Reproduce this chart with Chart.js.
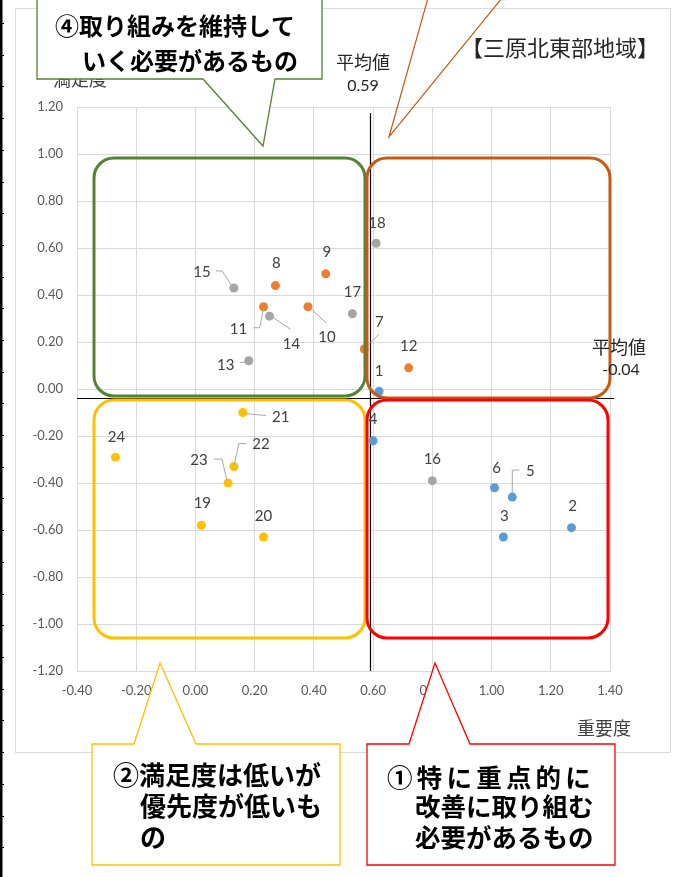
<!DOCTYPE html>
<html lang="ja">
<head>
<meta charset="utf-8">
<title>三原北東部地域</title>
<script src="https://cdn.jsdelivr.net/npm/chart.js@4.4.0/dist/chart.umd.min.js"></script>
<style>
  html, body { margin: 0; padding: 0; background: #fff; }
  #wrap { position: relative; width: 683px; height: 877px; }
</style>
</head>
<body>
<div id="wrap"><canvas id="matrix" width="683" height="877"></canvas></div>
<script>
// ===== data =====
const itemNo = [1, 2, 3, 4, 5, 6, 7, 8, 9, 10, 11, 12, 13, 14, 15, 16, 17, 18, 19, 20, 21, 22, 23, 24];
// 重要度 (x)
const importance = [0.62, 1.27, 1.04, 0.60, 1.07, 1.01, 0.57, 0.27, 0.44, 0.38, 0.23, 0.72,
  0.18, 0.25, 0.13, 0.80, 0.53, 0.61, 0.02, 0.23, 0.16, 0.13, 0.11, -0.27];
// 満足度 (y)
const satisfaction = [-0.01, -0.59, -0.63, -0.22, -0.46, -0.42, 0.17, 0.44, 0.49, 0.35, 0.35, 0.09,
  0.12, 0.31, 0.43, -0.39, 0.32, 0.62, -0.58, -0.63, -0.10, -0.33, -0.40, -0.29];
// items of each series
const seriesItems = [
  [1, 2, 3, 4, 5, 6],
  [7, 8, 9, 10, 11, 12],
  [13, 14, 15, 16, 17, 18],
  [19, 20, 21, 22, 23, 24],
];
const seriesColors = ["#5B9BD5", "#ED7D31", "#A5A5A5", "#FFC000"];
const avgImportance = 0.59;
const avgSatisfaction = -0.04;
const xTicks = { min: -0.4, max: 1.4, step: 0.2 };
const yTicks = { min: -1.2, max: 1.2, step: 0.2 };

// ===== label placement (pixel offsets from the point) =====
const labelLayout = {
  1: { dx: 0, dy: -20 },
  2: { dx: 1, dy: -21 },
  3: { dx: 1, dy: -21 },
  4: { dx: 0, dy: -22 },
  5: { dx: 18, dy: -26, leader: [[0, -3], [0, -27], [7, -27]] },
  6: { dx: 2, dy: -20 },
  7: { dx: 15, dy: -27, leader: [[2, -2], [15, -15]] },
  8: { dx: 1, dy: -22 },
  9: { dx: 1, dy: -22 },
  10: { dx: 19, dy: 30, leader: [[1, 0], [18, 16]] },
  11: { dx: -25, dy: 22, leader: [[0, 2], [-4, 21], [-10, 21]] },
  12: { dx: 0, dy: -22 },
  13: { dx: -23, dy: 4, leader: [[-2, 1], [-9, 2]] },
  14: { dx: 22, dy: 28, leader: [[3, 1], [21, 13]] },
  15: { dx: -32, dy: -16, leader: [[-2, -2], [-12, -17], [-18, -17]] },
  16: { dx: 0, dy: -21 },
  17: { dx: 0, dy: -22 },
  18: { dx: 1, dy: -20 },
  19: { dx: 1, dy: -22 },
  20: { dx: 0, dy: -21 },
  21: { dx: 38, dy: 5, leader: [[1, 1], [23, 3]] },
  22: { dx: 27, dy: -22, leader: [[0, -1], [5, -23], [12, -23]] },
  23: { dx: -29, dy: -23, leader: [[-1, -2], [-6, -24], [-14, -24]] },
  24: { dx: 1, dy: -20 },
};

const JP = '"Noto Sans CJK JP", "Noto Sans", sans-serif';
const NUM = 'Lato, "Liberation Sans", sans-serif';

function fmt(v) {
  return (Math.round(v * 100) / 100 + 0).toFixed(2);
}

function roundRect(ctx, x, y, w, h, r) {
  ctx.beginPath();
  ctx.moveTo(x + r, y);
  ctx.lineTo(x + w - r, y);
  ctx.arcTo(x + w, y, x + w, y + r, r);
  ctx.lineTo(x + w, y + h - r);
  ctx.arcTo(x + w, y + h, x + w - r, y + h, r);
  ctx.lineTo(x + r, y + h);
  ctx.arcTo(x, y + h, x, y + h - r, r);
  ctx.lineTo(x, y + r);
  ctx.arcTo(x, y, x + r, y, r);
  ctx.closePath();
}

// callout: rectangle with a pointer; pts is the closed outline
function callout(ctx, pts, color) {
  ctx.save();
  ctx.beginPath();
  ctx.moveTo(pts[0][0], pts[0][1]);
  for (let i = 1; i < pts.length; i++) ctx.lineTo(pts[i][0], pts[i][1]);
  ctx.closePath();
  ctx.fillStyle = "#fff";
  ctx.fill();
  ctx.strokeStyle = color;
  ctx.lineWidth = 1.3;
  ctx.stroke();
  ctx.restore();
}

function spacedText(ctx, text, x, y, advance) {
  ctx.save();
  ctx.textAlign = "center";
  [...text].forEach((ch, i) => ctx.fillText(ch, x + advance * (i + 0.5), y));
  ctx.restore();
}

const overlay = {
  id: "overlay",
  beforeDraw(chart) {
    const ctx = chart.ctx;
    ctx.save();
    ctx.fillStyle = "#fff";
    ctx.fillRect(0, 0, chart.width, chart.height);
    // chart frame
    ctx.strokeStyle = "#D9D9D9";
    ctx.lineWidth = 1;
    ctx.strokeRect(15.5, 8.5, 655, 744);
    // sheet edge at the left
    ctx.fillStyle = "#000";
    ctx.fillRect(0, 0, 2.5, chart.height);
    for (let y = 23; y < chart.height; y += 31.7) ctx.fillRect(2, Math.round(y), 2, 1);
    // axis titles
    ctx.fillStyle = "#404040";
    ctx.font = "18px " + JP;
    ctx.textAlign = "center";
    ctx.textBaseline = "middle";
    ctx.fillText("満足度", 80, 79);
    ctx.fillText("重要度", 604, 728);
    ctx.restore();
  },
  beforeDatasetsDraw(chart) {
    const ctx = chart.ctx;
    const { x, y } = chart.scales;
    const area = chart.chartArea;
    ctx.save();
    ctx.strokeStyle = "#000";
    ctx.lineWidth = 1.2;
    const ax = Math.round(x.getPixelForValue(avgImportance)) + 0.5;
    const ay = Math.round(y.getPixelForValue(avgSatisfaction)) + 0.5;
    ctx.beginPath();
    ctx.moveTo(ax, area.top + 6);
    ctx.lineTo(ax, area.bottom);
    ctx.moveTo(area.left, ay);
    ctx.lineTo(area.right + 4, ay);
    ctx.stroke();
    ctx.restore();
  },
  afterDatasetsDraw(chart) {
    const ctx = chart.ctx;
    const { x, y } = chart.scales;
    ctx.save();
    ctx.font = "15px " + NUM;
    ctx.fillStyle = "#404040";
    ctx.textAlign = "center";
    ctx.textBaseline = "middle";
    ctx.strokeStyle = "#A6A6A6";
    ctx.lineWidth = 1;
    itemNo.forEach((n, i) => {
      const px = x.getPixelForValue(importance[i]);
      const py = y.getPixelForValue(satisfaction[i]);
      const lay = labelLayout[n] || { dx: 0, dy: -21 };
      if (lay.leader) {
        ctx.beginPath();
        lay.leader.forEach(([lx, ly], k) => {
          if (k === 0) ctx.moveTo(px + lx, py + ly);
          else ctx.lineTo(px + lx, py + ly);
        });
        ctx.stroke();
      }
      ctx.fillText(String(n), px + lay.dx, py + lay.dy);
    });
    ctx.restore();
  },
  afterDraw(chart) {
    const ctx = chart.ctx;
    ctx.save();
    // quadrant frames
    ctx.lineWidth = 3;
    [
      [94, 158, 271, 238, "#548235"],
      [367, 158, 243, 240, "#C55A11"],
      [94, 400, 271, 238, "#FFC000"],
      [367, 400, 241, 238, "#FF0000"],
    ].forEach(([bx, by, bw, bh, c]) => {
      ctx.strokeStyle = c;
      roundRect(ctx, bx, by, bw, bh, 20);
      ctx.stroke();
    });

    // average value notes
    ctx.fillStyle = "#262626";
    ctx.textAlign = "center";
    ctx.textBaseline = "middle";
    ctx.font = "18px " + JP;
    ctx.fillText("平均値", 363, 62);
    ctx.fillText("平均値", 619, 347);
    ctx.font = "16px " + NUM;
    ctx.fillText(fmt(avgImportance), 363, 86);
    ctx.fillText(fmt(avgSatisfaction), 621, 370);

    // area title
    ctx.font = "22px " + JP;
    ctx.fillText("【三原北東部地域】", 560, 48);

    // orange callout pointer (box is off the top of the picture)
    ctx.strokeStyle = "#C55A11";
    ctx.lineWidth = 1.2;
    ctx.beginPath();
    ctx.moveTo(428, -2);
    ctx.lineTo(389, 137);
    ctx.lineTo(502, -2);
    ctx.stroke();

    // ④ callout
    callout(ctx, [[37, -5], [37, 79], [203, 79], [263, 146], [275, 79], [322, 79], [322, -5]], "#548235");
    ctx.fillStyle = "#000";
    ctx.textAlign = "left";
    ctx.font = "bold 24px " + JP;
    ctx.fillText("④取り組みを維持して", 55, 26);
    ctx.fillText("いく必要があるもの", 82, 61);

    // ② callout
    callout(ctx, [[92, 744], [134, 744], [160, 663], [196, 744], [340, 744], [340, 865], [92, 865]], "#FFC000");
    ctx.fillStyle = "#000";
    ctx.font = "bold 26px " + JP;
    ctx.fillText("②満足度は低いが", 113, 775);
    ctx.fillText("優先度が低いも", 140, 806);
    ctx.fillText("の", 140, 837);

    // ① callout
    callout(ctx, [[367, 744], [409, 744], [435, 663], [470, 744], [615, 744], [615, 865], [367, 865]], "#FF0000");
    ctx.fillStyle = "#000";
    ctx.font = "bold 25.5px " + JP;
    spacedText(ctx, "①特に重点的に", 385, 777, 29.7);
    ctx.textAlign = "left";
    ctx.fillText("改善に取り組む", 415, 806);
    ctx.fillText("必要があるもの", 415, 837);
    ctx.restore();
  },
};

const datasets = seriesItems.map((items, s) => ({
  label: "系列" + (s + 1),
  data: items.map((n) => {
    const i = itemNo.indexOf(n);
    return { x: importance[i], y: satisfaction[i] };
  }),
  backgroundColor: seriesColors[s],
  borderColor: seriesColors[s],
  borderWidth: 0,
  pointRadius: 4.5,
  pointHoverRadius: 4.5,
}));

function axis(t, fitKey, fitVal, pad) {
  return {
    type: "linear",
    min: t.min,
    max: t.max,
    ticks: {
      stepSize: t.step,
      color: "#595959",
      font: { family: NUM, size: 13 },
      padding: pad,
      callback: (v) => fmt(v),
    },
    grid: { color: "#D9D9D9", lineWidth: 1, drawTicks: false },
    border: { color: "#D9D9D9" },
    afterFit: (scale) => {
      scale[fitKey] = fitVal;
    },
  };
}

new Chart(document.getElementById("matrix"), {
  type: "scatter",
  data: { datasets },
  options: {
    responsive: false,
    animation: false,
    devicePixelRatio: 1,
    layout: { padding: { left: 0, top: 107, right: 73, bottom: 176 } },
    scales: {
      x: axis(xTicks, "height", 30, 12),
      y: axis(yTicks, "width", 77, 14),
    },
    plugins: {
      legend: { display: false },
      tooltip: { enabled: false },
    },
  },
  plugins: [overlay],
});
</script>
</body>
</html>
